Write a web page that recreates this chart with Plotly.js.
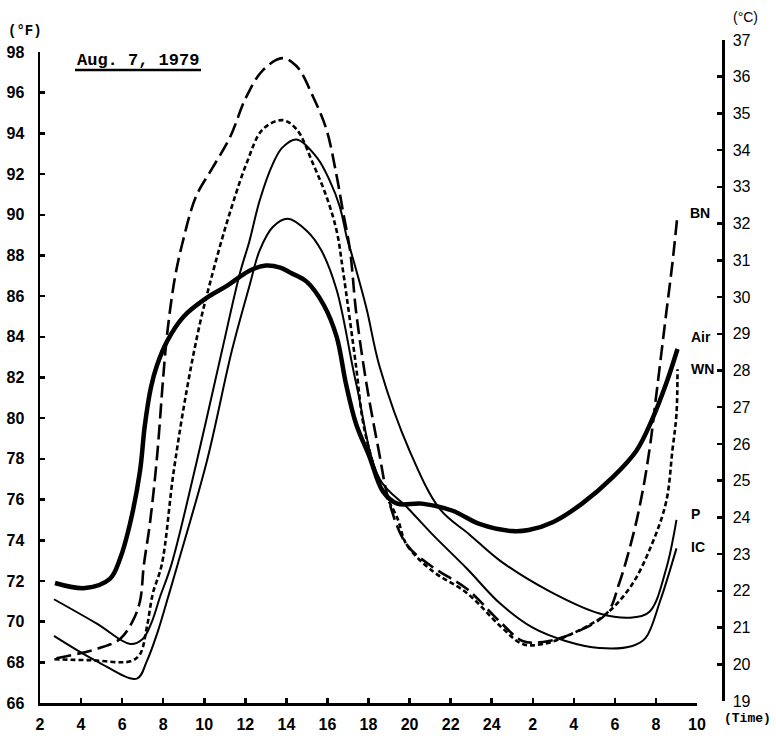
<!DOCTYPE html>
<html>
<head>
<meta charset="utf-8">
<script src="https://cdn.plot.ly/plotly-3.0.1.min.js"></script>
<style>html,body{margin:0;padding:0;background:#fff;}#chart{width:776px;height:736px;}</style>
</head>
<body>
<div id="chart"></div>
<script>
// ---- data (hour of day, continuing past midnight as 26..34; temperature in °F) ----
const xTickVals = [2,4,6,8,10,12,14,16,18,20,22,24,26,28,30,32,34];
const xTickText = ["2","4","6","8","10","12","14","16","18","20","22","24","2","4","6","8","10"];
const fTicks = [66,68,70,72,74,76,78,80,82,84,86,88,90,92,94,96,98];
const cTicks = [19,20,21,22,23,24,25,26,27,28,29,30,31,32,33,34,35,36,37];

const airH = [2.73,4.2,5.4,5.9,6.38,6.87,7.1,7.4,7.7,8.2,9.0,10.1,11.1,12.2,13.0,13.7,14.2,15.0,15.8,16.45,16.9,17.4,18.05,18.7,19.4,20.6,22.1,23.4,25.0,25.8,27.0,28.4,29.9,31.05,31.8,32.5,33.05];
const airF = [71.9,71.65,72.1,73.1,74.8,77.4,79.6,81.5,82.6,83.8,85.0,85.9,86.5,87.25,87.5,87.4,87.15,86.7,85.6,84.0,81.7,79.7,78.1,76.4,75.8,75.8,75.45,74.8,74.45,74.5,74.9,75.8,77.1,78.4,79.9,81.7,83.4];

const bnH = [2.8,4.9,5.9,6.5,6.87,7.06,7.35,7.7,8.0,8.2,8.57,8.96,9.6,10.4,11.25,12.05,12.85,13.8,14.5,15.3,15.95,16.45,16.75,17.1,17.4,17.9,18.5,19.0,19.85,21.1,22.8,24.4,25.5,26.5,27.9,29.6,30.2,30.9,31.35,31.7,32.0,32.5,32.8,33.05];
const bnF = [68.2,68.7,69.15,70.0,71.0,72.8,74.8,78.1,82.0,84.2,86.9,88.7,90.9,92.3,93.8,95.8,97.1,97.7,97.3,95.8,94.2,91.9,90.2,88.25,85.2,81.7,78.4,75.9,73.8,72.7,71.6,70.0,69.05,69.0,69.4,70.4,71.85,74.3,76.4,78.55,81.0,85.15,87.6,90.0];

const wnH = [2.7,4.5,6.4,6.87,7.2,7.5,7.93,8.5,9.15,9.8,10.4,10.85,11.25,12.05,12.85,13.8,14.5,15.3,15.95,16.45,16.75,17.4,17.7,18.05,18.55,19.4,19.85,21.1,22.8,24.4,25.5,26.5,27.9,29.6,30.85,31.8,32.5,32.8,33.0,33.05];
const wnF = [68.15,68.1,68.05,68.4,69.7,71.4,72.8,77.3,81.4,84.7,87.1,88.75,90.1,92.5,94.2,94.65,94.2,92.5,90.9,89.2,87.3,82.5,80.0,78.4,76.8,75.1,73.8,72.5,71.4,69.8,68.9,68.9,69.4,70.4,71.85,73.8,75.9,78.4,80.2,82.4];

const pH = [2.68,4.77,6.4,7.0,7.45,7.84,8.4,9.64,10.86,11.73,12.2,12.7,13.34,13.8,14.5,15.5,16.1,16.6,16.94,17.2,17.9,18.55,20.0,21.5,22.9,24.4,26.8,29.25,30.85,31.7,32.5,33.0];
const pF = [71.1,69.9,68.9,69.15,70.0,71.2,72.8,77.9,83.3,87.1,88.7,90.7,92.5,93.3,93.7,92.8,91.7,90.4,88.9,88.0,85.4,82.5,78.4,75.5,74.3,73.0,71.5,70.4,70.2,70.5,72.6,75.0];

const icH = [2.68,4.77,6.72,7.2,7.7,8.18,8.7,10.13,11.34,12.2,12.7,13.34,14.07,15.0,15.7,16.45,17.4,18.55,19.9,21.1,22.8,24.4,26.0,27.6,29.25,30.85,31.5,32.2,33.0];
const icF = [69.3,68.05,67.2,68.05,69.4,71.0,72.8,77.9,83.3,86.5,88.25,89.4,89.8,89.2,88.25,86.3,81.7,77.0,75.6,74.3,72.6,70.9,69.7,69.05,68.7,68.8,69.2,71.0,73.6];

// ---- layout helpers (pixel -> paper) ----
const W = 776, H = 736, ML = 40, MR = 53, MT = 40, MB = 33;
const PW = W - ML - MR, PH = H - MT - MB;
const px = v => (v - ML) / PW;
const py = v => (H - MB - v) / PH;

const lineStyle = (w, dash) => ({color: '#000', width: w, dash: dash, shape: 'spline', smoothing: 1});
const traces = [
  {x: bnH, y: bnF, mode: 'lines', name: 'BN', line: lineStyle(2.6, '15px,6px')},
  {x: wnH, y: wnF, mode: 'lines', name: 'WN', line: lineStyle(2.6, '5px,3px')},
  {x: pH, y: pF, mode: 'lines', name: 'P', line: lineStyle(2, 'solid')},
  {x: icH, y: icF, mode: 'lines', name: 'IC', line: lineStyle(2, 'solid')},
  {x: airH, y: airF, mode: 'lines', name: 'Air', line: lineStyle(4.5, 'solid')},
  {x: [], y: [], xaxis: 'x', yaxis: 'y2', mode: 'lines', showlegend: false, hoverinfo: 'skip'}
];

const tickFont = {family: 'Liberation Sans, Arial, sans-serif', size: 16, color: '#000', weight: 700};
const sans = 'Liberation Sans, Arial, sans-serif';
const mono = 'Liberation Mono, Courier New, monospace';

const layout = {
  width: W, height: H,
  margin: {l: ML, r: MR, t: MT, b: MB, pad: 0},
  paper_bgcolor: '#fff', plot_bgcolor: 'rgba(0,0,0,0)',
  showlegend: false,
  xaxis: {
    domain: [0, px(697)], range: [2, 34], anchor: 'y',
    tickmode: 'array', tickvals: xTickVals, ticktext: xTickText,
    ticks: 'inside', ticklen: 5, tickwidth: 2.5, tickcolor: '#000',
    showline: true, linewidth: 2.5, linecolor: '#000',
    showgrid: false, zeroline: false, tickfont: tickFont, ticklabelstandoff: 5
  },
  yaxis: {
    domain: [0, py(52)], range: [66, 98], anchor: 'x',
    tickmode: 'array', tickvals: fTicks,
    ticks: 'inside', ticklen: 5, tickwidth: 2.5, tickcolor: '#000',
    showline: true, linewidth: 2.5, linecolor: '#000',
    showgrid: false, zeroline: false, tickfont: tickFont, ticklabelstandoff: 10
  },
  yaxis2: {
    domain: [py(701), py(40)], range: [19, 37], anchor: 'free', position: 1, side: 'right',
    tickmode: 'array', tickvals: cTicks,
    ticks: 'inside', ticklen: 5, tickwidth: 2.5, tickcolor: '#000',
    showline: true, linewidth: 2.5, linecolor: '#000',
    showgrid: false, zeroline: false,
    tickfont: {family: sans, size: 16, color: '#000', weight: 400}, ticklabelstandoff: 5
  },
  shapes: [
    {type: 'line', xref: 'paper', yref: 'paper', x0: px(75), x1: px(201), y0: py(70), y1: py(70), line: {color: '#000', width: 2.5}}
  ],
  annotations: [
    {text: 'Aug. 7, 1979', xref: 'paper', yref: 'paper', x: px(75), y: py(60), xanchor: 'left', yanchor: 'middle', showarrow: false, font: {family: mono, size: 17, color: '#000', weight: 700}},
    {text: '(°F)', xref: 'paper', yref: 'paper', x: px(6), y: py(31), xanchor: 'left', yanchor: 'middle', showarrow: false, font: {family: mono, size: 14, color: '#000', weight: 700}},
    {text: '(°C)', xref: 'paper', yref: 'paper', x: px(731), y: py(17), xanchor: 'left', yanchor: 'middle', showarrow: false, font: {family: sans, size: 14, color: '#000'}},
    {text: '(Time)', xref: 'paper', yref: 'paper', x: px(722), y: py(718), xanchor: 'left', yanchor: 'middle', showarrow: false, font: {family: mono, size: 13, color: '#000', weight: 700}},
    {text: 'BN', xref: 'paper', yref: 'paper', x: px(688), y: py(213), xanchor: 'left', yanchor: 'middle', showarrow: false, font: {family: sans, size: 14, color: '#000', weight: 700}},
    {text: 'Air', xref: 'paper', yref: 'paper', x: px(689), y: py(337), xanchor: 'left', yanchor: 'middle', showarrow: false, font: {family: sans, size: 14, color: '#000', weight: 700}},
    {text: 'WN', xref: 'paper', yref: 'paper', x: px(689), y: py(369), xanchor: 'left', yanchor: 'middle', showarrow: false, font: {family: sans, size: 14, color: '#000', weight: 700}},
    {text: 'P', xref: 'paper', yref: 'paper', x: px(689), y: py(514), xanchor: 'left', yanchor: 'middle', showarrow: false, font: {family: sans, size: 14, color: '#000', weight: 700}},
    {text: 'IC', xref: 'paper', yref: 'paper', x: px(689), y: py(547), xanchor: 'left', yanchor: 'middle', showarrow: false, font: {family: sans, size: 14, color: '#000', weight: 700}}
  ]
};

Plotly.newPlot('chart', traces, layout, {displayModeBar: false, staticPlot: true});
</script>
</body>
</html>
